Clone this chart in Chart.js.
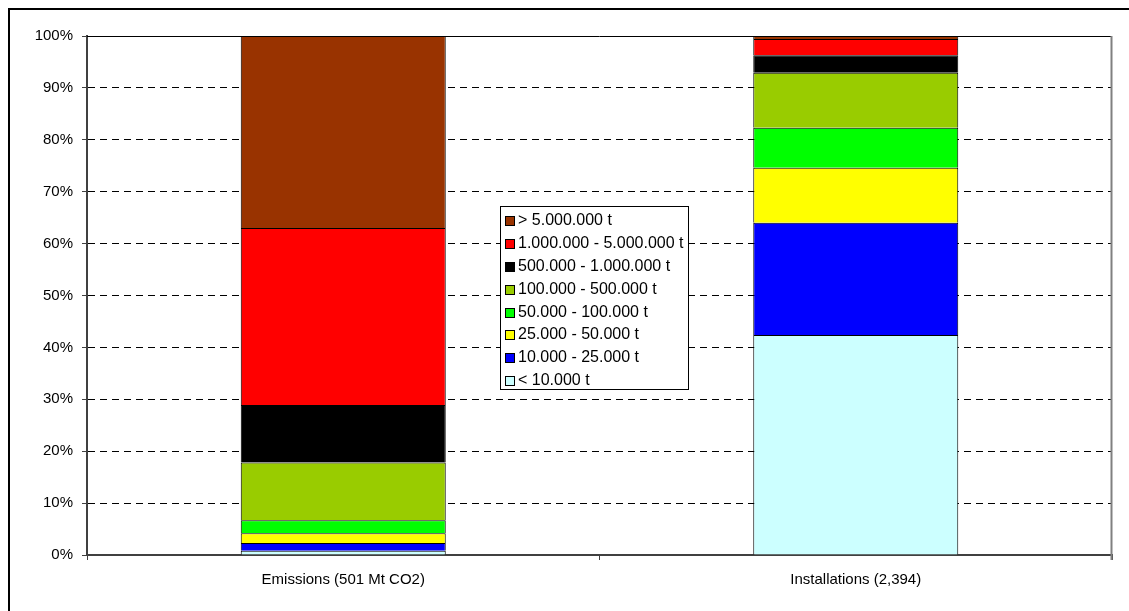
<!DOCTYPE html>
<html>
<head>
<meta charset="utf-8">
<script src="https://cdn.jsdelivr.net/npm/chart.js@4/dist/chart.umd.min.js"></script>
<style>
  html, body { margin: 0; padding: 0; background: #fff; }
  #wrap { position: relative; width: 1129px; height: 611px; overflow: hidden; }
  #c { position: absolute; left: 0; top: 0; }
  #legend {
    position: absolute; left: 500px; top: 206px; width: 189px; height: 184px;
    border: 1px solid #000; background: #fff; box-sizing: border-box;
    font-family: "Liberation Sans", Arial, sans-serif; font-size: 16px; color: #000;
    padding-top: 2px;
  }
  .row { height: 22.9px; line-height: 22.9px; white-space: nowrap; position: relative; padding-left: 17px; }
  .sw { position: absolute; left: 4px; top: 7px; width: 8px; height: 8px; border: 1px solid #000; }
</style>
</head>
<body>
<div id="wrap">
  <canvas id="c" width="1129" height="611"></canvas>
  <div id="legend"></div>
</div>
<script>
const categories = ["Emissions (501 Mt CO2)", "Installations (2,394)"];
const seriesNames = ["< 10.000 t", "10.000 - 25.000 t", "25.000 - 50.000 t", "50.000 - 100.000 t",
                     "100.000 - 500.000 t", "500.000 - 1.000.000 t", "1.000.000 - 5.000.000 t", "> 5.000.000 t"];
const seriesColors = ["#CCFFFF", "#0000FF", "#FFFF00", "#00FF00", "#99CC00", "#000000", "#FF0000", "#993300"];
// percentage shares, bottom to top: [Emissions, Installations]
const lt10k     = [0.8, 42.4];
const s10to25k  = [1.5, 21.6];
const s25to50k  = [1.9, 10.6];
const s50to100k = [2.5, 7.7];
const s100to500k= [11.1, 10.6];
const s500kto1M = [11.1, 3.4];
const s1Mto5M   = [34.1, 3.1];
const gt5M      = [37.0, 0.6];
const yTicks = [0, 10, 20, 30, 40, 50, 60, 70, 80, 90, 100];

const seriesValues = [lt10k, s10to25k, s25to50k, s50to100k, s100to500k, s500kto1M, s1Mto5M, gt5M];
const FONT = "'Liberation Sans', Arial, sans-serif";

const datasets = seriesNames.map((n, i) => ({
  label: n,
  data: seriesValues[i],
  backgroundColor: seriesColors[i],
  borderColor: "#000",
  borderWidth: 1,
  categoryPercentage: 1.0,
  barPercentage: 0.4
}));

const framePlugin = {
  id: "frame",
  afterDraw(chart) {
    const ctx = chart.ctx, a = chart.chartArea;
    ctx.save();
    ctx.strokeStyle = "#000"; ctx.lineWidth = 2;
    ctx.strokeRect(9, 9, 1200, 800);
    ctx.lineWidth = 1;
    ctx.beginPath(); ctx.moveTo(a.left, a.top + 0.5); ctx.lineTo(a.right, a.top + 0.5);
    ctx.strokeStyle = "#000"; ctx.stroke();
    ctx.beginPath(); ctx.moveTo(a.right - 0.5, a.top); ctx.lineTo(a.right - 0.5, a.bottom + 5);
    ctx.strokeStyle = "#808080"; ctx.lineWidth = 2; ctx.stroke();
    ctx.restore();
  }
};

new Chart(document.getElementById("c"), {
  type: "bar",
  data: { labels: categories, datasets },
  options: {
    responsive: false,
    animation: false,
    devicePixelRatio: 1,
    layout: { padding: { top: 36, right: 17, left: 0, bottom: 0 } },
    plugins: { legend: { display: false }, tooltip: { enabled: false } },
    scales: {
      x: {
        stacked: true,
        afterFit(s) { s.height = 56; },
        grid: { display: true, drawOnChartArea: false, offset: true, tickLength: 5, color: "#404040", lineWidth: 1 },
        border: { display: true, color: "#404040", width: 2 },
        ticks: { color: "#000", font: { family: FONT, size: 15 }, padding: 11 }
      },
      y: {
        stacked: true,
        min: 0, max: 100,
        afterFit(s) { s.width = 87; },
        afterBuildTicks(s) { s.ticks = yTicks.map(v => ({ value: v })); },
        grid: { color: "#000", lineWidth: 1, tickLength: 5, tickBorderDash: [], tickColor: "#404040" },
        border: { display: true, color: "#404040", width: 2, dash: [7, 5] },
        ticks: { color: "#000", font: { family: FONT, size: 15 }, padding: 9, callback: v => v + "%" }
      }
    }
  },
  plugins: [framePlugin]
});

const leg = document.getElementById("legend");
for (let i = seriesNames.length - 1; i >= 0; i--) {
  const r = document.createElement("div");
  r.className = "row";
  const sw = document.createElement("span");
  sw.className = "sw"; sw.style.background = seriesColors[i];
  r.appendChild(sw);
  r.appendChild(document.createTextNode(seriesNames[i]));
  leg.appendChild(r);
}
</script>
</body>
</html>
